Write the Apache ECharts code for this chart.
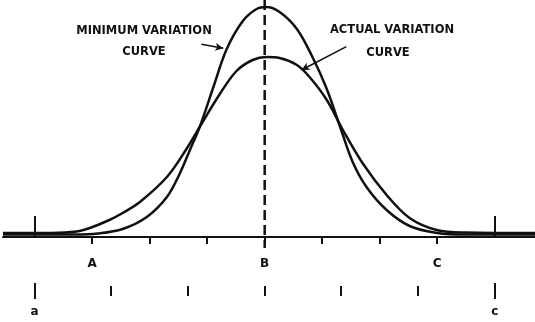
<!DOCTYPE html>
<html>
<head>
<meta charset="utf-8">
<script src="https://cdn.jsdelivr.net/npm/echarts@6/dist/echarts.min.js"></script>
<style>
  html, body { margin: 0; padding: 0; background: #fff; }
  #main { width: 535px; height: 322px; }
</style>
</head>
<body>
<div id="main"></div>
<script>
// x in units of the upper tick spacing (B = 0), y in height above the base line
var minX = [-4.55, -3.3, -2.9, -2.47, -2.05, -1.7, -1.48, -1.3, -1.13, -0.88, -0.66, -0.38, -0.14, 0.03, 0.26, 0.56, 0.83, 1.08, 1.33, 1.53, 1.77, 2.12, 2.52, 3.0, 3.5, 4.7];
var minY = [2.5, 2.5, 3.5, 8, 20, 40, 63, 87, 110, 152, 188, 216, 228, 230, 225, 208, 180, 148, 107, 75, 50, 27, 11, 4, 2.5, 2.5];

var actX = [-4.55, -3.7, -3.27, -3.04, -2.7, -2.47, -2.17, -1.7, -1.36, -1.1, -0.78, -0.49, -0.21, 0.03, 0.26, 0.56, 0.78, 1.08, 1.36, 1.7, 2.12, 2.52, 2.99, 3.5, 4.7];
var actY = [4, 4, 5.5, 9, 17, 24, 35, 60, 88, 113, 143, 166, 177, 180, 179, 172, 160, 137, 107, 74, 42, 19, 7, 4.5, 4];

var upperTicks = [-3, -2, -1, 0, 1, 2, 3];
var upperLabelAt = [-3, 0, 3];
var upperLabels = ['A', 'B', 'C'];
var endTicks = [-4, 4];
var lowerTicks = [-4, -2.67, -1.33, 0, 1.33, 2.67, 4];
var lowerLabelAt = [-4, 4];
var lowerLabels = ['a', 'c'];

function pairs(xs, ys) {
    return xs.map(function (x, i) { return [x, ys[i]]; });
}

var ink = '#111';
var font = 'DejaVu Sans';

function axisBase(extra) {
    var a = {
        type: 'value',
        position: 'bottom',
        min: -4.55,
        max: 4.7,
        splitLine: { show: false },
        axisLine: { show: false, onZero: false },
        axisTick: { show: false },
        axisLabel: { show: false }
    };
    for (var k in extra) a[k] = extra[k];
    return a;
}

var mapChart = echarts.init(document.getElementById('main'));

var option = {
    animation: false,
    backgroundColor: '#fff',
    grid: { left: 3, right: 0, top: 7, bottom: 85 },
    xAxis: [
        // main base line with A B C
        axisBase({
            axisLine: { show: true, onZero: false, lineStyle: { color: ink, width: 2 } },
            axisTick: { show: true, customValues: upperTicks, length: 7, lineStyle: { color: ink, width: 2 } },
            axisLabel: {
                show: true, customValues: upperLabelAt, margin: 21,
                color: ink, fontFamily: font, fontWeight: 'bold', fontSize: 12,
                formatter: function (v) { return upperLabels[upperLabelAt.indexOf(v)]; }
            }
        }),
        // tall upward ticks at the ends
        axisBase({
            axisTick: { show: true, inside: true, customValues: endTicks, length: 21, lineStyle: { color: ink, width: 2 } }
        }),
        // lower scale
        axisBase({
            offset: 49,
            axisTick: { show: true, customValues: lowerTicks, length: 10, lineStyle: { color: ink, width: 2 } },
            axisLabel: {
                show: true, customValues: lowerLabelAt, margin: 20,
                color: ink, fontFamily: font, fontWeight: 'bold', fontSize: 12,
                formatter: function (v) { return lowerLabels[lowerLabelAt.indexOf(v)]; }
            }
        }),
        axisBase({
            offset: 46,
            axisTick: { show: true, customValues: endTicks, length: 16, lineStyle: { color: ink, width: 2 } }
        })
    ],
    yAxis: { type: 'value', min: 0, max: 230, show: false },
    series: [
        {
            name: 'Minimum variation curve',
            type: 'line',
            data: pairs(minX, minY),
            smooth: 0.35,
            symbol: 'none',
            lineStyle: { color: ink, width: 2.5 },
            markLine: {
                silent: true,
                symbol: ['none', 'arrow'],
                symbolSize: [6, 8],
                label: { show: false },
                lineStyle: { color: ink, width: 1.5, type: 'solid' },
                data: [
                    [{ coord: [-1.10, 192.7] }, { coord: [-0.72, 188.7] }],
                    [{ coord: [1.42, 190.3] }, { coord: [0.64, 167] }]
                ]
            }
        },
        {
            name: 'Actual variation curve',
            type: 'line',
            data: pairs(actX, actY),
            smooth: 0.35,
            symbol: 'none',
            lineStyle: { color: ink, width: 2.5 }
        },
        {
            name: 'B',
            type: 'line',
            data: [[0, 237], [0, -11]],
            clip: false,
            symbol: 'none',
            lineStyle: { color: ink, width: 2.5, type: [10, 5] }
        }
    ],
    graphic: [
        { type: 'text', x: 144, y: 31, style: { text: 'MINIMUM VARIATION', fill: ink, font: 'bold 11.5px ' + font, textAlign: 'center', textVerticalAlign: 'middle' } },
        { type: 'text', x: 144, y: 52.5, style: { text: 'CURVE', fill: ink, font: 'bold 11.5px ' + font, textAlign: 'center', textVerticalAlign: 'middle' } },
        { type: 'text', x: 392, y: 30.5, style: { text: 'ACTUAL VARIATION', fill: ink, font: 'bold 11.5px ' + font, textAlign: 'center', textVerticalAlign: 'middle' } },
        { type: 'text', x: 388, y: 53, style: { text: 'CURVE', fill: ink, font: 'bold 11.5px ' + font, textAlign: 'center', textVerticalAlign: 'middle' } }
    ]
};

mapChart.setOption(option);
</script>
</body>
</html>
